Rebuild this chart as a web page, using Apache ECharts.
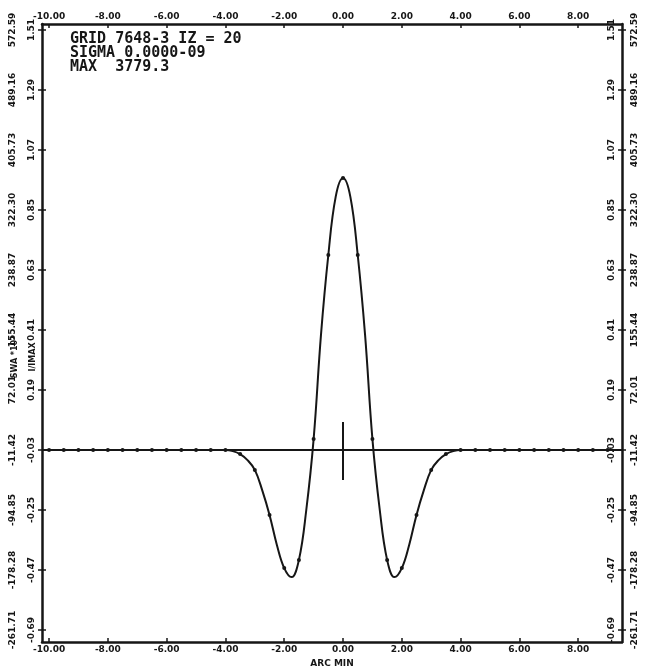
<!DOCTYPE html>
<html><head><meta charset="utf-8">
<script src="https://cdn.jsdelivr.net/npm/echarts@6.0.0/dist/echarts.min.js"></script>
<style>html,body{margin:0;background:#fff}#c{width:663px;height:667px}</style>
</head><body><div id="c"></div>
<script>
// ---- data ----
const arcMin = [-10,-9.5,-9,-8.5,-8,-7.5,-7,-6.5,-6,-5.5,-5,-4.5,-4,-3.75,-3.5,-3.25,-3,-2.75,-2.5,-2.25,-2,-1.75,-1.5,-1.25,-1,-0.75,-0.5,-0.25,0,0.25,0.5,0.75,1,1.25,1.5,1.75,2,2.25,2.5,2.75,3,3.25,3.5,3.75,4,4.5,5,5.5,6,6.5,7,7.5,8,8.5,9,9.5];
const intensity = [-0.03,-0.03,-0.03,-0.03,-0.03,-0.03,-0.03,-0.03,-0.03,-0.03,-0.03,-0.03,-0.03,-0.034,-0.045,-0.067,-0.103,-0.177,-0.268,-0.378,-0.463,-0.496,-0.433,-0.25,0.01,0.392,0.685,0.898,0.967,0.898,0.685,0.392,0.01,-0.25,-0.433,-0.496,-0.463,-0.378,-0.268,-0.177,-0.103,-0.067,-0.045,-0.034,-0.03,-0.03,-0.03,-0.03,-0.03,-0.03,-0.03,-0.03,-0.03,-0.03,-0.03,-0.03];
const xTicks = [-10,-8,-6,-4,-2,0,2,4,6,8];
const iTicks = [1.51,1.29,1.07,0.85,0.63,0.41,0.19,-0.03,-0.25,-0.47,-0.69];
const swaTickLabels = ['572.59','489.16','405.73','322.30','238.87','155.44','72.01','-11.42','-94.85','-178.28','-261.71'];
const annotation = ['GRID 7648-3 IZ = 20','SIGMA 0.0000-09','MAX  3779.3'];
const baselineLevel = -0.03;
const centerMark = [0, -0.14, 0.0725];
const xRange = [-10.24, 9.49];
const yRange = [-0.734, 1.532];

// ---- chart ----
const INK = '#161616';
const FONT = 'DejaVu Sans';
const chart = echarts.init(document.getElementById('c'), null, {renderer:'canvas'});
const swaFmt = v => { const i = iTicks.findIndex(t => Math.abs(t - v) < 1e-6); return i >= 0 ? swaTickLabels[i] : ''; };
const lbl = (extra) => Object.assign({color:INK, fontFamily:FONT, fontWeight:'bold', fontSize:9}, extra);
function xAx(pos){
  return {type:'value', position:pos, min:xRange[0], max:xRange[1],
    axisLine:{show:true, onZero:false, lineStyle:{color:INK, width:2.5}},
    axisTick:{show:true, customValues:xTicks, length:4, inside:true, lineStyle:{color:INK, width:1.5}},
    axisLabel:lbl({customValues:xTicks, formatter:v=>v.toFixed(2), margin:3}),
    splitLine:{show:false},
    name: pos==='bottom' ? 'ARC MIN' : '', nameLocation:'middle', nameGap:14,
    nameTextStyle:{color:INK, fontFamily:FONT, fontWeight:'bold', fontSize:9}};
}
function yAx(pos, kind){
  const isI = kind === 'I';
  return {type:'value', position:pos, min:yRange[0], max:yRange[1], offset:0,
    axisLine:{show:isI, onZero:false, lineStyle:{color:INK, width:2.5}},
    axisTick:{show:true, customValues:iTicks, length:4, inside:!isI, lineStyle:{color:INK, width:1.5}},
    axisLabel:lbl({customValues:iTicks, rotate:90,
      formatter: isI ? (v=>v.toFixed(2)) : swaFmt,
      margin: isI ? 6 : (pos==='left'?25:8),
      inside: isI && pos==='right'}),
    splitLine:{show:false}};
}
const pts = arcMin.map((x,i)=>[x, intensity[i]]);
const axisNames = [
  {type:'text', x:15, y:357, rotation:Math.PI/2,
   style:{text:'{a|SWA *10}{s|1}', align:'center', verticalAlign:'middle',
     rich:{a:{font:'bold 8px "DejaVu Sans"', fill:INK}, s:{font:'bold 6px "DejaVu Sans"', fill:INK, verticalAlign:'top', padding:[0,0,5,0]}}}},
  {type:'text', x:33, y:357, rotation:Math.PI/2,
   style:{text:'I/IMAX', align:'center', verticalAlign:'middle', font:'bold 8px "DejaVu Sans"', fill:INK}}
];
chart.setOption({
  animation:false,
  backgroundColor:'#ffffff',
  grid:{left:42, right:41, top:24, bottom:25, containLabel:false, outerBoundsMode:'none'},
  xAxis:[xAx('bottom'), xAx('top')],
  yAxis:[yAx('left','I'), yAx('left','S'), yAx('right','I'), yAx('right','S')],
  series:[{
    type:'line', xAxisIndex:0, yAxisIndex:0, data:pts, smooth:0.4,
    symbol:(v)=> Math.abs(v[0]*2 - Math.round(v[0]*2)) < 1e-6 ? 'circle' : 'none',
    symbolSize:4, showAllSymbol:true,
    lineStyle:{color:INK, width:2}, itemStyle:{color:INK},
    markLine:{silent:true, symbol:'none', label:{show:false},
      lineStyle:{color:INK, width:2, type:'solid'},
      data:[ {yAxis:baselineLevel},
             [{coord:[centerMark[0], centerMark[1]]},{coord:[centerMark[0], centerMark[2]]}] ]}
  }],
  graphic: annotation.map((t,i)=>({type:'text', left:70, top:32+i*14,
    style:{text:t, fill:INK, font:'bold 15px "DejaVu Sans Mono"'}})).concat(axisNames)
});
</script></body></html>
